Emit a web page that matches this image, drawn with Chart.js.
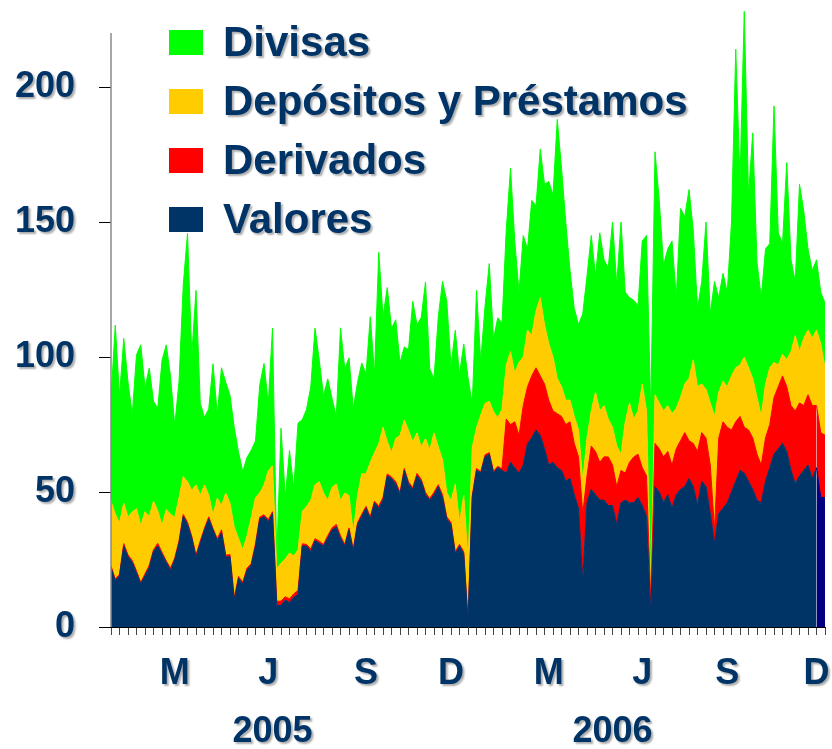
<!DOCTYPE html>
<html>
<head>
<meta charset="utf-8">
<script src="https://cdn.jsdelivr.net/npm/chart.js@4/dist/chart.umd.min.js"></script>
<style>
  html, body { margin: 0; padding: 0; background: #ffffff; }
  #wrap { width: 832px; height: 749px; }
</style>
</head>
<body>
<div id="wrap"><canvas id="c" width="832" height="749"></canvas></div>
<script>
// Daily positions (billions), stacked bottom to top.
const valores = [
  22,17,19,30,26,24,20,16,19,22, 28,30,27,24,21,25,31,41,38,33,
  26,31,36,40,36,32,35,26,26,10, 18,16,21,23,30,40,41,39,42,8,
  8,10,9,11,12,30,30,28,32,31, 30,33,36,37,33,30,36,28,38,41,
  44,40,46,44,47,56,55,53,49,58, 53,51,56,54,49,47,49,52,48,40,
  38,27,30,27,2,48,58,57,63,64, 57,59,58,57,61,59,57,60,68,70,
  73,71,66,60,61,59,58,54,55,49, 44,17,46,51,49,47,47,45,45,38,
  46,47,46,46,48,45,41,5,52,50, 46,49,44,49,51,52,55,52,45,54,
  52,42,31,42,44,46,50,54,58,57, 54,51,47,46,54,59,64,66,68,65,
  58,53,56,58,60,55,59,48,48
];
const derivados = [
  0.6,0.8,0.5,0.9,0.7,0.6,0.8,0.5,0.7,0.9, 0.6,1.0,0.7,0.5,0.8,0.6,0.9,0.7,0.8,0.6,
  0.7,0.9,0.6,0.8,0.5,0.7,1.0,0.6,0.8,0.9, 0.7,0.6,0.8,0.5,0.9,0.7,0.6,0.8,0.7,1.5,
  1.6,1.2,1.4,1.3,1.5,0.8,0.6,0.9,0.7,0.8, 0.6,0.9,0.7,1.0,0.8,0.6,0.7,0.9,0.6,0.8,
  0.7,0.9,0.6,0.8,1.0,0.7,0.6,0.8,0.9,0.7, 0.8,0.6,0.9,0.7,0.8,0.6,0.9,0.7,1.0,0.8,
  0.7,0.9,0.6,0.8,0.4,0.6,0.7,0.5,0.8,0.6, 0.7,0.5,0.6,20,14,17,14,22,21,23,
  23,22,24,24,19,20,20,21,21,19, 19,25,10,16,16,14,16,18,15,14,
  12,10,15,17,16,14,15,4,16,16, 17,16,16,17,18,20,14,16,20,18,
  18,18,5,28,32,28,23,22,20,17, 19,19,17,14,16,16,21,23,25,24,
  24,27,27,24,26,27,23,24,23
];
const depositos = [
  24,24,19,15,14,18,23,21,23,18, 18,12,10,19,20,15,16,14,15,17,
  26,17,16,8,5,15,9,23,19,26, 14,12,12,17,17,9,11,18,17,12,
  14,14,17,14,15,12,14,18,20,22, 19,13,15,15,13,19,12,6,10,15,
  12,20,18,23,26,12,9,16,21,18, 19,17,15,12,20,18,22,14,13,9,
  8,25,8,21,22,18,15,21,19,19, 22,18,22,20,27,18,27,18,21,15,
  21,29,22,21,20,13,11,9,8,10, 10,12,14,13,22,19,19,14,14,15,
  6,19,22,14,16,31,24,6,18,17, 17,17,19,15,16,18,23,31,24,18,
  18,23,42,17,15,15,20,20,19,26, 23,22,21,18,20,21,13,8,8,10,
  20,28,19,25,24,25,28,33,25
];
const divisas = [
  38,70,47,61,50,36,57,67,46,55, 37,38,61,61,51,34,43,71,92,50,
  72,34,25,32,56,31,51,41,40,37, 32,29,29,25,21,40,45,25,51,4,
  50,23,38,25,47,34,36,42,58,45, 36,45,33,25,64,46,51,46,42,41,
  37,54,29,71,41,57,46,44,27,27, 30,52,40,48,58,30,20,48,66,71,
  50,57,55,56,68,16,51,20,36,51, 27,37,32,50,68,49,26,45,30,50,
  39,55,52,60,60,96,81,66,48,40, 39,62,60,65,43,66,54,56,76,60,
  86,48,39,44,39,53,65,65,90,75, 54,58,64,41,70,62,70,48,29,38,
  62,33,50,35,40,35,57,118,68,128, 64,91,50,44,50,46,95,49,41,73,
  34,20,62,47,30,25,26,19,24
];

// Axis labels
const yTicks = [0, 50, 100, 150, 200];
const monthLabels = ['M', 'J', 'S', 'D', 'M', 'J', 'S', 'D'];
const monthIndex = [15, 37, 60, 80, 103, 125, 145, 166];
const yearLabels = ['2005', '2006'];
const yearIndex = [38, 118];

const days = valores.map((_, i) => i);

const TEXT = '#003366';
const FONT = "'Liberation Sans', Arial, Helvetica, sans-serif";
const AXIS_TOP = 220;

function area(label, data, color, fill) {
  return {
    label, data, fill,
    backgroundColor: color,
    borderColor: color,
    borderWidth: 1,
    pointRadius: 0,
    tension: 0
  };
}

const lastBlock = valores.length - 3;
const valoresSet = area('Valores', valores, '#003366', 'origin');
valoresSet.segment = {
  backgroundColor: c => c.p0DataIndex >= lastBlock ? '#000080' : undefined,
  borderColor: c => c.p0DataIndex >= lastBlock ? '#000080' : undefined
};

function shadowOn(ctx) {
  ctx.shadowColor = 'rgba(0,0,0,0.33)';
  ctx.shadowOffsetX = 2;
  ctx.shadowOffsetY = 2;
  ctx.shadowBlur = 2;
}
function shadowOff(ctx) {
  ctx.shadowColor = 'rgba(0,0,0,0)';
  ctx.shadowOffsetX = 0;
  ctx.shadowOffsetY = 0;
  ctx.shadowBlur = 0;
}

// Vertical axis line, then soft shadow for every label drawn afterwards
const decorations = {
  id: 'decorations',
  afterDatasetsDraw(chart) {
    const ctx = chart.ctx;
    const ys = chart.scales.y;
    const x = chart.chartArea.left;
    ctx.save();
    ctx.strokeStyle = '#8a8a8a';
    ctx.lineWidth = 1.5;
    ctx.beginPath();
    ctx.moveTo(x, ys.getPixelForValue(AXIS_TOP));
    ctx.lineTo(x, ys.getPixelForValue(0));
    ctx.stroke();
    ctx.restore();
    shadowOn(ctx);
  },
  afterDraw(chart) {
    const ctx = chart.ctx;
    const items = chart.data.datasets.slice().reverse();
    ctx.save();
    ctx.font = 'bold 42px ' + FONT;
    ctx.textAlign = 'left';
    ctx.textBaseline = 'alphabetic';
    items.forEach((d, k) => {
      const top = 30 + k * 59;
      shadowOff(ctx);
      ctx.fillStyle = d.backgroundColor;
      ctx.fillRect(169, top, 34, 25);
      shadowOn(ctx);
      ctx.fillStyle = TEXT;
      ctx.fillText(d.label, 223, top + 26);
    });
    ctx.restore();
    shadowOff(ctx);
  }
};

const labelFont = { family: FONT, size: 36, weight: 'bold' };

function fixHeight(h) {
  return s => { s.height = h; s.paddingLeft = 0; s.paddingRight = 0; };
}

new Chart(document.getElementById('c'), {
  type: 'line',
  data: {
    labels: days,
    datasets: [
      valoresSet,
      area('Derivados', derivados, '#ff0000', '-1'),
      area('Depósitos y Préstamos', depositos, '#ffcc00', '-1'),
      area('Divisas', divisas, '#00ff00', '-1')
    ]
  },
  options: {
    responsive: false,
    animation: false,
    layout: { padding: { top: 6, right: 7, left: 0, bottom: 0 } },
    plugins: { legend: { display: false }, tooltip: { enabled: false } },
    scales: {
      x: {
        type: 'linear', position: 'bottom', weight: 0,
        min: 0, max: days.length - 1,
        afterBuildTicks: s => { s.ticks = days.filter(d => d % 2 === 0).map(v => ({ value: v })); },
        afterFit: fixHeight(10),
        grid: { drawOnChartArea: false, drawTicks: true, tickLength: 8, tickColor: '#444', lineWidth: 1 },
        border: { display: true, color: '#000', width: 1 },
        ticks: { display: false }
      },
      xm: {
        type: 'linear', position: 'bottom', weight: 1,
        min: 0, max: days.length - 1,
        afterBuildTicks: s => { s.ticks = monthIndex.map(v => ({ value: v })); },
        afterFit: fixHeight(60),
        grid: { display: false, drawTicks: false },
        border: { display: false },
        ticks: {
          autoSkip: false, maxRotation: 0, padding: 15, z: 1,
          color: TEXT, font: labelFont,
          callback: (v, i) => monthLabels[i]
        }
      },
      xy: {
        type: 'linear', position: 'bottom', weight: 2,
        min: 0, max: days.length - 1,
        afterBuildTicks: s => { s.ticks = yearIndex.map(v => ({ value: v })); },
        afterFit: fixHeight(52),
        grid: { display: false, drawTicks: false },
        border: { display: false },
        ticks: {
          autoSkip: false, maxRotation: 0, padding: 13, z: 1,
          color: TEXT, font: labelFont,
          callback: (v, i) => yearLabels[i]
        }
      },
      y: {
        type: 'linear', position: 'left', stacked: true,
        min: 0, max: 230,
        afterBuildTicks: s => { s.ticks = yTicks.map(v => ({ value: v })); },
        afterFit: s => { s.width = 111; s.paddingTop = 0; s.paddingBottom = 0; },
        grid: { drawOnChartArea: false, drawTicks: true, tickLength: 12, tickColor: '#000', lineWidth: 1 },
        border: { display: false },
        ticks: { padding: 24, z: 1, color: TEXT, font: labelFont }
      }
    }
  },
  plugins: [decorations]
});
</script>
</body>
</html>
